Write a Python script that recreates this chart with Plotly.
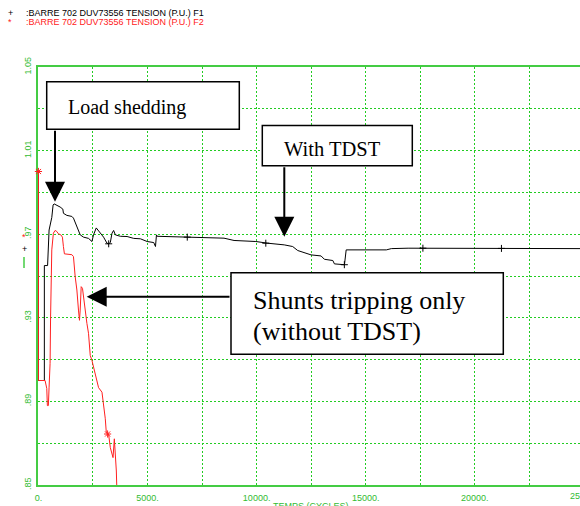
import plotly.graph_objects as go

# ---------------- data ----------------
# F1 : with TDST (black)
f1_t = [0, 0, 271, 271, 419, 488, 612, 672, 718, 842, 994, 1118, 1146, 1302, 1532,
        1605, 1762, 1914, 2065, 2295, 2452, 2525, 2650, 2834, 2985, 3142, 3215, 3294,
        3372, 3445, 3524, 3754, 4062, 4365, 4674, 4982, 5285, 5364, 5410, 5442, 5745,
        6822, 7434, 8505, 8965, 9964, 10502, 11265, 11652, 11882, 12494, 12954, 13105,
        13492, 13565, 14025, 14104, 15944, 16174, 16942, 24914]
f1_v = [1.000, 0.900, 0.900, 0.955, 0.955, 0.972, 0.978, 0.984, 0.9845, 0.984, 0.983,
        0.982, 0.980, 0.979, 0.9785, 0.9777, 0.9737, 0.9697, 0.9686, 0.968, 0.9665,
        0.9697, 0.973, 0.9705, 0.9686, 0.9657, 0.9654, 0.966, 0.9705, 0.9718, 0.9697,
        0.969, 0.9689, 0.968, 0.9678, 0.9665, 0.966, 0.9641, 0.9697, 0.969, 0.9689,
        0.9686, 0.9683, 0.9681, 0.967, 0.9665, 0.9657, 0.9649, 0.9641, 0.9622, 0.9601,
        0.9596, 0.958, 0.9574, 0.9558, 0.9554, 0.9625, 0.9625, 0.9631, 0.9633, 0.9631]

# F2 : shunts tripping only (red)
f2_t = [0, 0, 304, 382, 409, 455, 488, 534, 557, 580, 612, 685, 764, 842, 915, 1026,
        1099, 1145, 1191, 1532, 1605, 1684, 1762, 1835, 1881, 1914, 1960, 2019, 2065,
        2144, 2222, 2295, 2374, 2452, 2604, 2755, 2912, 2985, 3064, 3110, 3215, 3294,
        3418, 3478, 3524, 3570, 3602]
f2_v = [1.000, 0.900, 0.900, 0.8962, 0.888, 0.888, 0.8968, 0.9082, 0.9304, 0.9465,
        0.9625, 0.9705, 0.9718, 0.9713, 0.9702, 0.9697, 0.9686, 0.9641, 0.9606, 0.9602,
        0.9593, 0.9497, 0.9433, 0.9337, 0.9288, 0.9337, 0.9449, 0.9441, 0.940, 0.9337,
        0.9273, 0.9226, 0.912, 0.9096, 0.9034, 0.8966, 0.8944, 0.8889, 0.8817, 0.8751,
        0.8744, 0.8679, 0.8631, 0.8721, 0.8649, 0.8567, 0.845]

# symbol markers placed along the curves
f1_mark_t = [3220, 6820, 10420, 14020, 17620, 21220]
f1_mark_v = [0.9654, 0.9686, 0.9657, 0.9554, 0.9633, 0.9632]
f2_mark_t = [0, 3170]
f2_mark_v = [1.000, 0.8744]

x_tick_vals = [0, 5000, 10000, 15000, 20000]
x_tick_text = ['0.', '5000.', '10000.', '15000.', '20000.']
x_extra_tick = '25000.'
y_tick_vals = [0.85, 0.89, 0.93, 0.97, 1.01, 1.05]
y_tick_text = ['.85', '.89', '.93', '.97', '1.01', '1.05']
x_title = 'TEMPS (CYCLES)'
legend_symbols = ['+', '*']
legend_labels = [':BARRE 702 DUV73556 TENSION (P.U.) F1',
                 ':BARRE 702 DUV73556 TENSION (P.U.) F2']
series_colors = ['#000000', '#ff2020']

box_texts = ['Load shedding', 'With TDST', 'Shunts tripping only', '(without TDST)']

# ---------------- layout geometry ----------------
W, H = 580, 506
L, R, T, B = 38, 0, 67, 21
PW, PH = W - L - R, H - T - B


def px(x):
    return (x - L) / PW


def py(y):
    return (H - B - y) / PH


AXIS_GREEN = '#44cc44'
GRID_GREEN = '#22cc22'
TEXT_GREEN = '#33bb33'
SANS = 'Liberation Sans, Arial, sans-serif'
SERIF = 'Liberation Serif, Times New Roman, serif'

fig = go.Figure()
fig.add_trace(go.Scatter(x=f1_t, y=f1_v, mode='lines',
                         line=dict(color=series_colors[0], width=1), showlegend=False))
fig.add_trace(go.Scatter(x=f2_t, y=f2_v, mode='lines',
                         line=dict(color=series_colors[1], width=1), showlegend=False))
fig.add_trace(go.Scatter(x=f1_mark_t, y=f1_mark_v, mode='markers',
                         marker=dict(symbol='cross-thin-open', size=5, color=series_colors[0],
                                     line=dict(color=series_colors[0], width=1)),
                         showlegend=False, cliponaxis=False))
fig.add_trace(go.Scatter(x=f2_mark_t, y=f2_mark_v, mode='markers',
                         marker=dict(symbol='asterisk-open', size=6, color=series_colors[1],
                                     line=dict(color=series_colors[1], width=1)),
                         showlegend=False, cliponaxis=False))

grid_common = dict(gridcolor=GRID_GREEN, griddash='2px,2px', gridwidth=1)

fig.update_layout(
    width=W, height=H,
    margin=dict(l=L, r=R, t=T, b=B, pad=0),
    paper_bgcolor='white', plot_bgcolor='white',
    xaxis=dict(range=[-20, 24820], tickmode='array', tickvals=x_tick_vals,
               ticktext=x_tick_text, showgrid=True, **grid_common,
               minor=dict(dtick=2500, tick0=0, showgrid=True, **grid_common),
               showline=True, linecolor=AXIS_GREEN, linewidth=1.5, mirror=True,
               zeroline=False, ticks='', ticklabelstandoff=3,
               tickfont=dict(family=SANS, size=9, color=TEXT_GREEN),
               automargin=False, layer='below traces'),
    yaxis=dict(range=[0.85, 1.05], tickmode='array', tickvals=y_tick_vals,
               ticktext=y_tick_text, tickangle=-90, showgrid=True, **grid_common,
               minor=dict(dtick=0.02, tick0=0.85, showgrid=True, **grid_common),
               showline=True, linecolor=AXIS_GREEN, linewidth=1.5, mirror=False,
               zeroline=False, ticks='', ticklabelstandoff=2,
               tickfont=dict(family=SANS, size=9, color=TEXT_GREEN),
               automargin=False, layer='below traces'),
)

shapes = []
annotations = []

# text boxes (white fill, black border)
for (x0, x1, y0, y1) in [(46.7, 239.3, 81.7, 129.3),
                         (262.3, 412.3, 125.5, 165.7),
                         (231.0, 503.3, 272.7, 354.3)]:
    shapes.append(dict(type='rect', xref='paper', yref='paper',
                       x0=px(x0), x1=px(x1), y0=py(y1), y1=py(y0),
                       line=dict(color='black', width=1.5), fillcolor='white',
                       layer='above'))

# green dash at the left (y-axis legend)
shapes.append(dict(type='line', xref='paper', yref='paper',
                   x0=px(24), x1=px(24), y0=py(268), y1=py(257),
                   line=dict(color=AXIS_GREEN, width=1.5)))

# box texts
for txt, (x, y, size) in zip(box_texts, [(66.7, 107.5, 20), (283.3, 148.5, 20.5),
                                          (251.7, 300.6, 26), (251.7, 331.3, 26)]):
    annotations.append(dict(text=txt, xref='paper', yref='paper', x=px(x), y=py(y),
                            xanchor='left', yanchor='middle', showarrow=False,
                            borderpad=0, font=dict(family=SERIF, size=size, color='black')))

# arrows
for (x, y, ax, ay) in [(55, 201.7, 0, -72.4), (284.3, 236.7, 0, -71), (86.7, 296.7, 144.3, 0)]:
    annotations.append(dict(text='', xref='paper', yref='paper', x=px(x), y=py(y),
                            ax=ax, ay=ay, axref='pixel', ayref='pixel', showarrow=True,
                            arrowhead=2, arrowsize=2, arrowwidth=2, arrowcolor='black'))

# top legend
for i, (sym, lab) in enumerate(zip(legend_symbols, legend_labels)):
    yc = 12.7 + i * 9
    annotations.append(dict(text=sym, xref='paper', yref='paper', x=px(10), y=py(yc),
                            xanchor='center', yanchor='middle', showarrow=False,
                            borderpad=0,
                            font=dict(family=SANS, size=9, color=series_colors[i])))
    annotations.append(dict(text=lab, xref='paper', yref='paper', x=px(25), y=py(yc),
                            xanchor='left', yanchor='middle', showarrow=False,
                            borderpad=0,
                            font=dict(family=SANS, size=9, color=series_colors[i])))

# symbols at the left of the y axis
annotations.append(dict(text=legend_symbols[1], xref='paper', yref='paper', x=px(24), y=py(237),
                        xanchor='center', yanchor='middle', showarrow=False,
                        font=dict(family=SANS, size=9, color=series_colors[1])))
annotations.append(dict(text=legend_symbols[0], xref='paper', yref='paper', x=px(24), y=py(249),
                        xanchor='center', yanchor='middle', showarrow=False,
                        font=dict(family=SANS, size=9, color=series_colors[0])))

# x-axis title (partially cut at the bottom) and the cut-off last tick label
annotations.append(dict(text=x_title, xref='paper', yref='paper', x=px(311), y=py(499),
                        xanchor='center', yanchor='top', showarrow=False,
                        font=dict(family=SANS, size=9, color=TEXT_GREEN)))
annotations.append(dict(text=x_extra_tick, xref='paper', yref='paper', x=px(583.9), y=py(496),
                        xanchor='center', yanchor='middle', showarrow=False,
                        font=dict(family=SANS, size=9, color=TEXT_GREEN)))

fig.update_layout(shapes=shapes, annotations=annotations)
fig.write_html('out.html', config={'displayModeBar': False},
               post_script="document.body.style.margin='0';document.body.style.overflow='hidden';")
